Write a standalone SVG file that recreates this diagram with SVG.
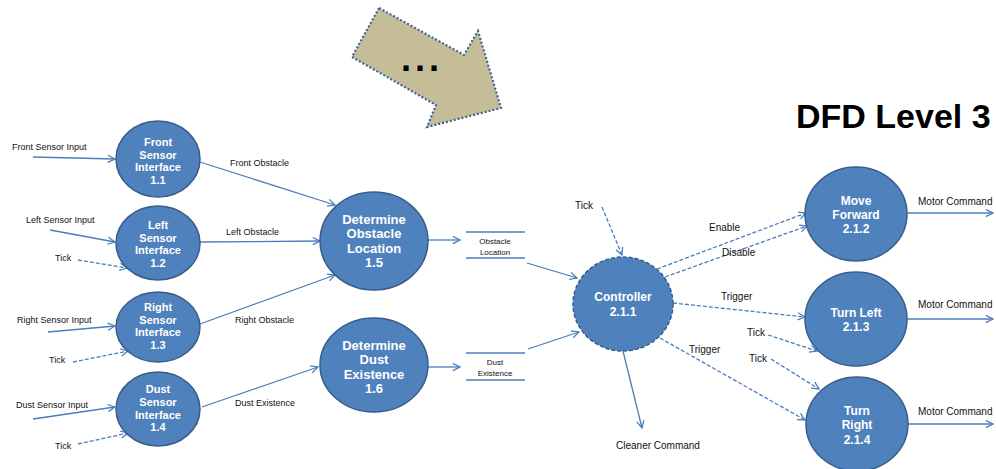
<svg xmlns="http://www.w3.org/2000/svg" width="996" height="469" viewBox="0 0 996 469">
<defs>
<marker id="ah" viewBox="0 0 10 10" refX="9" refY="5" markerWidth="9" markerHeight="9" markerUnits="userSpaceOnUse" orient="auto">
<path d="M1,1 L9,5 L1,9" fill="none" stroke="#4A7EBB" stroke-width="1.4"/>
</marker>
</defs>
<style>
.bg{fill:#ffffff}
.node{fill:#4F81BD;stroke:#385D8A;stroke-width:1.5}
.ctrl{fill:#4F81BD;stroke:#385D8A;stroke-width:1.5;stroke-dasharray:4 2}
.nt{font-family:"Liberation Sans",Arial,sans-serif;font-weight:bold;fill:#ffffff;text-anchor:middle;font-size:11px}
.nb{font-size:13px}
.nm{font-size:12px}
.lbl{font-family:"Liberation Sans",Arial,sans-serif;fill:#111111;font-size:9px}
.lr{font-size:10px}
.mc{font-size:10px}
.ds{font-family:"Liberation Sans",Arial,sans-serif;fill:#111111;font-size:8px;text-anchor:middle}
.c{stroke:#4A7EBB;stroke-width:1.3;fill:none;marker-end:url(#ah)}
.d{stroke-dasharray:4 2}
.store{stroke:#4A7EBB;stroke-width:1.3}
.title{font-family:"Liberation Sans",Arial,sans-serif;font-weight:bold;font-size:34px;fill:#000000}
</style>
<rect class="bg" x="0" y="0" width="996" height="469"/>

<g id="bigarrow">
<polygon points="379,8 352,57 436,105 427,127 501,108 478,31 464,55" fill="#C4BD97" stroke="#3E6496" stroke-width="2.2" stroke-dasharray="2 2"/>
<text x="401" y="71" font-family="Liberation Sans,Arial,sans-serif" font-weight="bold" font-size="36" letter-spacing="4" fill="#000000">...</text>
</g>

<g id="title"><text class="title" x="796" y="128">DFD Level 3</text></g>

<g id="connectors">
<line class="c" x1="33" y1="157" x2="115" y2="159"/>
<line class="c" x1="50" y1="230" x2="115" y2="242"/>
<line class="c" x1="48" y1="332" x2="115" y2="326"/>
<line class="c" x1="33" y1="419" x2="115" y2="407"/>
<line class="c" x1="200" y1="162" x2="335" y2="205"/>
<line class="c" x1="200" y1="242" x2="320" y2="241"/>
<line class="c" x1="200" y1="324" x2="335" y2="275"/>
<line class="c" x1="202" y1="407" x2="318" y2="367"/>
<line class="c" x1="428" y1="240" x2="460" y2="240"/>
<line class="c" x1="428" y1="367" x2="460" y2="367"/>
<line class="c" x1="527" y1="263" x2="577" y2="278"/>
<line class="c" x1="528" y1="349" x2="579" y2="332"/>
<line class="c" x1="623" y1="351" x2="642" y2="428"/>
<line class="c" x1="907" y1="213" x2="993" y2="213"/>
<line class="c" x1="907" y1="319" x2="993" y2="319"/>
<line class="c" x1="907" y1="424" x2="993" y2="424"/>
<line class="c d" x1="78" y1="260" x2="127" y2="268"/>
<line class="c d" x1="73" y1="362" x2="128" y2="351"/>
<line class="c d" x1="78" y1="444" x2="128" y2="433"/>
<line class="c d" x1="602" y1="207" x2="622" y2="255"/>
<line class="c d" x1="657" y1="269" x2="806" y2="213"/>
<line class="c d" x1="665" y1="277" x2="807" y2="226"/>
<line class="c d" x1="673" y1="303" x2="805" y2="317"/>
<line class="c d" x1="768" y1="335" x2="817" y2="351"/>
<line class="c d" x1="771" y1="359" x2="819" y2="389"/>
<line class="c d" x1="660" y1="338" x2="805" y2="420"/>
</g>

<g id="labels">
<text class="lbl" x="12" y="150">Front Sensor Input</text>
<text class="lbl" x="26" y="223">Left Sensor Input</text>
<text class="lbl" x="55" y="261">Tick</text>
<text class="lbl" x="17" y="323">Right Sensor Input</text>
<text class="lbl" x="49" y="363">Tick</text>
<text class="lbl" x="16" y="408">Dust Sensor Input</text>
<text class="lbl" x="55" y="449">Tick</text>
<text class="lbl" x="230" y="166">Front Obstacle</text>
<text class="lbl" x="226" y="235">Left Obstacle</text>
<text class="lbl" x="235" y="323">Right Obstacle</text>
<text class="lbl" x="235" y="406">Dust Existence</text>
<text class="lbl lr" x="575" y="209">Tick</text>
<text class="lbl lr" x="709" y="231">Enable</text>
<text class="lbl lr" x="722" y="256">Disable</text>
<text class="lbl lr" x="721" y="300">Trigger</text>
<text class="lbl lr" x="747" y="336">Tick</text>
<text class="lbl lr" x="749" y="362">Tick</text>
<text class="lbl lr" x="689" y="353">Trigger</text>
<text class="lbl lr" x="616" y="449">Cleaner Command</text>
<text class="lbl mc" x="918" y="205">Motor Command</text>
<text class="lbl mc" x="918" y="308">Motor Command</text>
<text class="lbl mc" x="918" y="415">Motor Command</text>
</g>

<g id="store-obstacle">
<line class="store" x1="466" y1="232" x2="525" y2="232"/>
<line class="store" x1="466" y1="258" x2="525" y2="258"/>
<text class="ds" x="495" y="244">Obstacle</text>
<text class="ds" x="495" y="255">Location</text>
</g>
<g id="store-dust">
<line class="store" x1="466" y1="353" x2="525" y2="353"/>
<line class="store" x1="466" y1="380" x2="525" y2="380"/>
<text class="ds" x="495" y="365">Dust</text>
<text class="ds" x="495" y="376">Existence</text>
</g>

<g id="n1_1">
<ellipse class="node" cx="158" cy="159" rx="42" ry="38"/>
<text class="nt" x="158" y="146">Front</text>
<text class="nt" x="158" y="158.5">Sensor</text>
<text class="nt" x="158" y="171">Interface</text>
<text class="nt" x="158" y="183.5">1.1</text>
</g>
<g id="n1_2">
<ellipse class="node" cx="158" cy="243" rx="42" ry="37"/>
<text class="nt" x="158" y="229">Left</text>
<text class="nt" x="158" y="241.5">Sensor</text>
<text class="nt" x="158" y="254">Interface</text>
<text class="nt" x="158" y="266.5">1.2</text>
</g>
<g id="n1_3">
<ellipse class="node" cx="158" cy="327" rx="42" ry="35"/>
<text class="nt" x="158" y="311">Right</text>
<text class="nt" x="158" y="323.5">Sensor</text>
<text class="nt" x="158" y="336">Interface</text>
<text class="nt" x="158" y="348.5">1.3</text>
</g>
<g id="n1_4">
<ellipse class="node" cx="158" cy="409" rx="42" ry="37"/>
<text class="nt" x="158" y="393">Dust</text>
<text class="nt" x="158" y="405.5">Sensor</text>
<text class="nt" x="158" y="418.5">Interface</text>
<text class="nt" x="158" y="431">1.4</text>
</g>
<g id="n1_5">
<ellipse class="node" cx="374" cy="241" rx="54" ry="49"/>
<text class="nt nb" x="374" y="223.5">Determine</text>
<text class="nt nb" x="374" y="238">Obstacle</text>
<text class="nt nb" x="374" y="252.5">Location</text>
<text class="nt nb" x="374" y="267">1.5</text>
</g>
<g id="n1_6">
<ellipse class="node" cx="374" cy="365" rx="54" ry="47"/>
<text class="nt nb" x="374" y="349.5">Determine</text>
<text class="nt nb" x="374" y="364">Dust</text>
<text class="nt nb" x="374" y="378.5">Existence</text>
<text class="nt nb" x="374" y="393">1.6</text>
</g>
<g id="n2_1_1">
<ellipse class="ctrl" cx="623" cy="304" rx="50" ry="47"/>
<text class="nt nm" x="623" y="301">Controller</text>
<text class="nt nm" x="623" y="316">2.1.1</text>
</g>
<g id="n2_1_2">
<ellipse class="node" cx="856" cy="214" rx="51" ry="47"/>
<text class="nt nm" x="856" y="205">Move</text>
<text class="nt nm" x="856" y="219">Forward</text>
<text class="nt nm" x="856" y="233">2.1.2</text>
</g>
<g id="n2_1_3">
<ellipse class="node" cx="856" cy="319" rx="51" ry="47"/>
<text class="nt nm" x="856" y="317">Turn Left</text>
<text class="nt nm" x="856" y="331">2.1.3</text>
</g>
<g id="n2_1_4">
<ellipse class="node" cx="857" cy="424" rx="51" ry="47"/>
<text class="nt nm" x="857" y="415">Turn</text>
<text class="nt nm" x="857" y="429">Right</text>
<text class="nt nm" x="857" y="444">2.1.4</text>
</g>
</svg>
